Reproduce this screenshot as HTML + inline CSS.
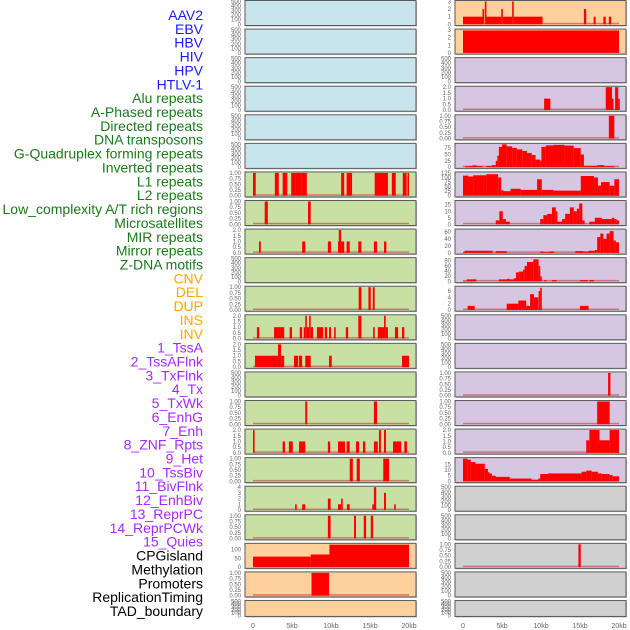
<!DOCTYPE html>
<html><head><meta charset="utf-8"><style>
html,body{margin:0;padding:0;background:#fff;width:630px;height:630px;overflow:hidden}
svg{display:block;font-family:"Liberation Sans",sans-serif}
</style></head><body>
<svg id="chart" width="630" height="630" viewBox="0 0 630 630" xmlns="http://www.w3.org/2000/svg">
<g id="labels"></g>
<g id="panels"></g>
<g id="xaxes"></g>
</svg>
<script>
// ---- labels ----
const LABELS = ["AAV2","EBV","HBV","HIV","HPV","HTLV-1","Alu repeats","A-Phased repeats","Directed repeats","DNA transposons","G-Quadruplex forming repeats","Inverted repeats","L1 repeats","L2 repeats","Low_complexity A/T rich regions","Microsatellites","MIR repeats","Mirror repeats","Z-DNA motifs","CNV","DEL","DUP","INS","INV","1_TssA","2_TssAFlnk","3_TxFlnk","4_Tx","5_TxWk","6_EnhG","7_Enh","8_ZNF_Rpts","9_Het","10_TssBiv","11_BivFlnk","12_EnhBiv","13_ReprPC","14_ReprPCWk","15_Quies","CPGisland","Methylation","Promoters","ReplicationTiming","TAD_boundary"];
const LABEL_COLORS = ["#1a1aff","#1a1aff","#1a1aff","#1a1aff","#1a1aff","#1a1aff",
"#1a7a1a","#1a7a1a","#1a7a1a","#1a7a1a","#1a7a1a","#1a7a1a","#1a7a1a","#1a7a1a","#1a7a1a","#1a7a1a","#1a7a1a","#1a7a1a","#1a7a1a",
"#ffa500","#ffa500","#ffa500","#ffa500","#ffa500",
"#a52aff","#a52aff","#a52aff","#a52aff","#a52aff","#a52aff","#a52aff","#a52aff","#a52aff","#a52aff","#a52aff","#a52aff","#a52aff","#a52aff","#a52aff",
"#000","#000","#000","#000","#000"];

// ---- x axis ----
const X_TICKS = [0,5,10,15,20];
const X_TICK_LABELS = ["0","5kb","10kb","15kb","20kb"];

// ---- tick sets ----
const T500 = [0,100,200,300,400,500], T500L = ["0","100","200","300","400","500"];
const T1 = [0,0.25,0.5,0.75,1], T1L = ["0.00","0.25","0.50","0.75","1.00"];
const T2 = [0,0.5,1,1.5,2], T2L = ["0.0","0.5","1.0","1.5","2.0"];
const T3 = [0,1,2,3], T3L = ["0","1","2","3"];
const T4 = [0,1,2,3,4], T4L = ["0","1","2","3","4"];
const TCPG = [0,50,100], TCPGL = ["0","50","100"];
const TGQ = [0,25,50,75], TGQL = ["0","25","50","75"];
const TL1 = [0,25,50,75,100,125], TL1L = ["0","25","50","75","100","125"];
const T15 = [0,5,10,15], T15L = ["0","5","10","15"];
const T60 = [0,20,40,60], T60L = ["0","20","40","60"];
const T80 = [0,20,40,60,80], T80L = ["0","20","40","60","80"];
const T6 = [0,2,4,6], T6L = ["0","2","4","6"];

// ---- series: [startKb, endKb, value] ----
const L1_LEFT = [[0,0.35,1],[2.8,3.3,1],[3.8,4.4,1],[4.9,5.5,1],[5.5,6.2,1],[6.2,6.9,1],[11.3,11.7,1],[12.0,12.7,1],[15.6,17.3,1],[17.8,18.3,1],[19.2,19.7,1],[19.8,20,1]];
const LOWCX = [[1.5,1.9,1],[7.05,7.4,1]];
const MIR = [[0.77,1.0,1],[6.3,6.7,1],[9.6,10.0,1],[10.9,11.0,1],[11.0,11.3,2],[11.3,11.7,1],[12.0,12.4,1],[13.5,13.9,1],[15.5,15.9,1],[16.8,17.1,1]];
const ZDNA = [[13.55,13.9,1],[14.8,15.1,1],[15.35,15.6,1]];
const CNV = [[0.5,0.8,1],[2.7,4.0,1],[4.7,5.0,1],[6.0,6.3,1],[6.5,6.7,1],[6.7,6.9,2],[6.9,7.2,1],[7.2,7.4,2],[7.4,7.7,1],[8.2,9.0,1],[9.2,9.5,1],[9.75,10.0,1],[10.4,10.6,1],[11.9,12.2,1],[13.5,13.9,2],[15.4,15.6,1],[16.0,16.8,1],[16.8,17.0,2],[17.0,17.3,1],[18.2,18.6,1],[19.1,19.4,1]];
const DEL = [[0.25,3.2,1],[3.2,3.6,2],[3.6,4.0,1],[5.25,5.8,1],[5.9,6.3,1],[6.7,7.4,1],[9.75,10.1,1],[19.1,20,1]];
const INS_L = [[6.7,6.95,1],[15.5,15.9,1]];
const INV = [[0,0.15,2],[3.8,4.1,1],[4.6,5.1,1],[5.9,6.7,1],[9.6,9.9,1],[10.9,11.8,1],[12.0,12.4,1],[13.2,13.6,1],[14.1,14.4,1],[15.5,16.0,1],[16.15,16.4,2],[16.8,17.05,2],[17.95,19.0,1],[19.4,19.75,1]];
const ROW16L = [[12.4,12.8,1],[13.3,13.7,1],[16.7,17.45,1]];
const ROW17L = [[5.4,5.6,1],[6.3,6.7,1],[9.6,9.95,2],[10.9,11.3,1],[11.3,11.5,2],[12.05,12.4,1],[15.3,15.5,1],[15.5,15.8,4],[16.8,17.05,3],[18.1,18.3,1]];
const ROW18L = [[9.6,9.95,1],[12.95,13.2,1],[14.2,14.5,1],[15.1,15.4,1]];
const CPG = [[0,7.4,60],[7.4,9.8,72],[9.8,20,128]];
const METH = [[7.5,9.75,1]];
const R0R = [[0,2.5,1],[2.5,2.7,2],[2.8,3.0,3],[3.0,4.9,1],[4.9,5.1,2],[5.1,6.3,1],[6.3,6.5,3],[6.5,10.2,1],[15.5,15.8,2],[16.75,17.0,1],[18.0,18.3,1],[18.7,19.0,1]];
const R1R = [[0,20,2.95]];
const R3R = [[10.4,11.2,1],[18.3,19.1,2],[19.1,19.3,1],[19.5,19.9,2],[19.9,20,1]];
const R4R = [[18.7,19.4,1]];
const GQ = [[0.3,1.2,4],[1.2,1.8,7],[1.8,2.5,4],[3.0,3.7,4],[3.7,4.2,8],[4.2,4.4,25],[4.4,4.6,45],[4.6,5.0,80],[5.0,5.6,90],[5.6,6.3,82],[6.3,6.9,76],[6.9,7.6,70],[7.6,8.2,64],[8.2,8.8,56],[8.8,9.3,48],[9.3,9.9,30],[9.9,10.05,25],[10.05,10.6,80],[10.6,11.6,86],[11.6,13.0,88],[13.0,14.2,85],[14.2,15.1,75],[15.1,15.5,50],[15.5,17.2,5],[17.2,18.1,8],[18.1,19.4,4]];
const L1R = [[0,0.7,110],[0.7,1.3,105],[1.3,3.0,112],[3.0,4.5,118],[4.5,4.9,100],[4.9,5.2,30],[5.2,6.1,25],[6.1,7.4,38],[7.4,9.5,32],[9.5,10.1,90],[10.1,11.6,32],[11.6,15.1,28],[15.1,16.8,108],[16.8,17.3,100],[17.3,17.7,55],[17.7,18.8,75],[18.8,19.4,55],[19.4,20,90]];
const MICRO = [[4.2,4.66,3],[4.66,5.1,10],[5.1,5.5,4],[5.5,6.0,2],[9.9,10.3,4],[10.3,10.8,7],[10.8,11.4,8],[11.4,11.9,13],[11.9,12.1,10],[12.1,12.7,2],[12.7,13.1,4],[13.1,13.7,8],[13.7,14.2,13],[14.2,14.6,10],[14.6,14.9,12],[14.9,15.3,16],[15.3,15.6,3],[16.2,16.9,2],[16.9,17.8,5],[17.8,19.1,4],[19.1,19.4,5],[19.4,19.7,4],[19.7,20,3]];
const R8R = [[0,0.2,2],[0.2,2.0,6],[2.0,3.8,6],[4.2,5.6,5],[9.9,10.3,4],[10.3,11.1,2],[11.1,11.7,4],[14.4,15.4,5],[15.4,16.1,4],[16.1,16.9,6],[16.9,17.2,8],[17.2,17.6,45],[17.6,18.0,55],[18.0,18.4,40],[18.4,18.8,55],[18.8,19.3,62],[19.3,19.6,35],[19.6,20,30]];
const R9R = [[0,0.5,2],[0.5,1.7,8],[4.6,5.6,8],[5.6,6.0,10],[6.0,6.5,8],[6.5,6.8,12],[6.8,7.2,35],[7.2,7.7,38],[7.7,7.9,45],[7.9,8.2,60],[8.2,9.0,75],[9.0,9.7,85],[9.7,9.9,60],[9.9,10.1,20],[10.4,10.7,5],[11.4,12.0,5],[15.0,16.0,5],[16.2,16.8,5]];
const R10R = [[0.6,1.5,1.3],[5.6,7.1,2],[7.1,8.1,3],[8.1,8.6,1.3],[8.6,9.1,5],[9.1,9.66,4],[9.7,9.9,6],[9.9,10.1,7],[15.0,16.1,1.3]];
const R13R = [[18.6,18.9,1]];
const R14R = [[17.2,18.8,1]];
const R15R = [[15.8,16.2,1.1],[16.2,17.5,2],[17.5,18.8,1.1],[18.8,20,2]];
const R16R = [[0,0.6,20],[0.6,1.0,19],[1.0,1.6,17],[1.6,2.8,15.5],[2.8,3.2,11],[3.2,3.4,8],[3.4,3.7,7],[3.7,4.2,5],[4.2,6.0,4],[6.0,8.8,2.5],[8.8,9.66,1.5],[9.66,9.9,2.5],[9.9,10.9,6.5],[10.9,15.2,7],[15.2,15.8,8.5],[15.8,16.5,9.5],[16.5,17.3,8.5],[17.3,17.8,7],[17.8,18.8,6.5],[18.8,19.2,5.5],[19.2,20,4.5]];
const R19R = [[14.8,15.1,1]];

const BLUE="#c8e4ec", GREEN="#c8e0a4", PEACH="#fdd09c", LAV="#d6c6e2", GRAY="#d0d0d0";
// col, row, bg, ticks, tickLabels, ymax, data
const PANELS = [
 [0,0,BLUE,T500,T500L,500,null],[0,1,BLUE,T500,T500L,500,null],[0,2,BLUE,T500,T500L,500,null],
 [0,3,BLUE,T500,T500L,500,null],[0,4,BLUE,T500,T500L,500,null],[0,5,BLUE,T500,T500L,500,null],
 [0,6,GREEN,T1,T1L,1,L1_LEFT],[0,7,GREEN,T1,T1L,1,LOWCX],[0,8,GREEN,T2,T2L,2,MIR],
 [0,9,GREEN,T500,T500L,500,null],[0,10,GREEN,T1,T1L,1,ZDNA],[0,11,GREEN,T2,T2L,2,CNV],
 [0,12,GREEN,T2,T2L,2,DEL],[0,13,GREEN,T500,T500L,500,null],[0,14,GREEN,T1,T1L,1,INS_L],
 [0,15,GREEN,T2,T2L,2,INV],[0,16,GREEN,T1,T1L,1,ROW16L],[0,17,GREEN,T4,T4L,4,ROW17L],
 [0,18,GREEN,T1,T1L,1,ROW18L],[0,19,PEACH,TCPG,TCPGL,130,CPG],[0,20,PEACH,T1,T1L,1,METH],
 [0,21,PEACH,T500,T500L,500,null],
 [1,0,PEACH,T3,T3L,3,R0R],[1,1,PEACH,T3,T3L,3,R1R],[1,2,LAV,T500,T500L,500,null],
 [1,3,LAV,T2,T2L,2,R3R],[1,4,LAV,T1,T1L,1,R4R],[1,5,LAV,TGQ,TGQL,90,GQ],
 [1,6,LAV,TL1,TL1L,125,L1R],[1,7,LAV,T15,T15L,17.5,MICRO],[1,8,LAV,T60,T60L,65,R8R],
 [1,9,LAV,T80,T80L,88,R9R],[1,10,LAV,T6,T6L,7.2,R10R],[1,11,LAV,T500,T500L,500,null],
 [1,12,LAV,T500,T500L,500,null],[1,13,LAV,T1,T1L,1,R13R],[1,14,LAV,T1,T1L,1,R14R],
 [1,15,LAV,T2,T2L,2,R15R],[1,16,LAV,T15,T15L,20,R16R],[1,17,GRAY,T500,T500L,500,null],
 [1,18,GRAY,T500,T500L,500,null],[1,19,GRAY,T1,T1L,1,R19R],[1,20,GRAY,T500,T500L,500,null],
 [1,21,GRAY,T500,T500L,500,null]
];

const NS="http://www.w3.org/2000/svg";
function mk(tag, attrs, parent){const e=document.createElementNS(NS,tag);for(const k in attrs)e.setAttribute(k,attrs[k]);parent.appendChild(e);return e;}
const COL_X=[245,455], PW=171, ZERO_X=[253,463], KB=7.8;
function xScale(col,kb){return ZERO_X[col]+kb*KB;}
function rowTop(r){return r*28.57+0.5;}

const lg=document.getElementById('labels');
LABELS.forEach((t,i)=>{
  const e=mk('text',{x:203,y:20+i*13.86,'text-anchor':'end','font-size':'14',fill:LABEL_COLORS[i]},lg);
  
  
  e.textContent=t;
});

const pg=document.getElementById('panels');
PANELS.forEach((p,idx)=>{
  const [col,row,bg,ticks,tl,ymax,data]=p;
  const top=rowTop(row), h=(row===21)?16:25, x0=COL_X[col];
  const g=mk('g',{},pg);
  
  
  mk('rect',{x:x0+1,y:top+1,width:PW,height:h,fill:'#bbb'},g);
  const bgR=mk('rect',{x:x0,y:top,width:PW,height:h,fill:bg,stroke:'#5a5a5a','stroke-width':1},g);
  
  
  const y0=top+h-1.2, y1=top+1;
  const yS=v=>y0-(v/ymax)*(y0-y1);
  ticks.forEach((v,i)=>{
    const t=mk('text',{x:x0-4,y:yS(v)+2,'text-anchor':'end','font-size':'6',fill:'#666'},g);
    
    
    t.textContent=tl[i];
  });
  if(data){
    const bl=mk('rect',{x:xScale(col,0),y:y0-1.5,width:xScale(col,20)-xScale(col,0),height:1.5,fill:'rgba(190,60,60,0.6)'},g);
    
    
    data.forEach(d=>{
      const xa=xScale(col,d[0]), xb=xScale(col,d[1]);
      const r=mk('rect',{x:xa,y:yS(d[2]),width:Math.max(1.6,xb-xa),height:y0-yS(d[2]),fill:'#ff0000'},g);
      
      
    });
  }
});

const xg=document.getElementById('xaxes');
[0,1].forEach(col=>{
  X_TICKS.forEach((v,i)=>{
    const t=mk('text',{x:xScale(col,v),y:628,'text-anchor':'middle','font-size':'7',fill:'#666'},xg);
    
    
    t.textContent=X_TICK_LABELS[i];
  });
});
</script>
</body></html>
